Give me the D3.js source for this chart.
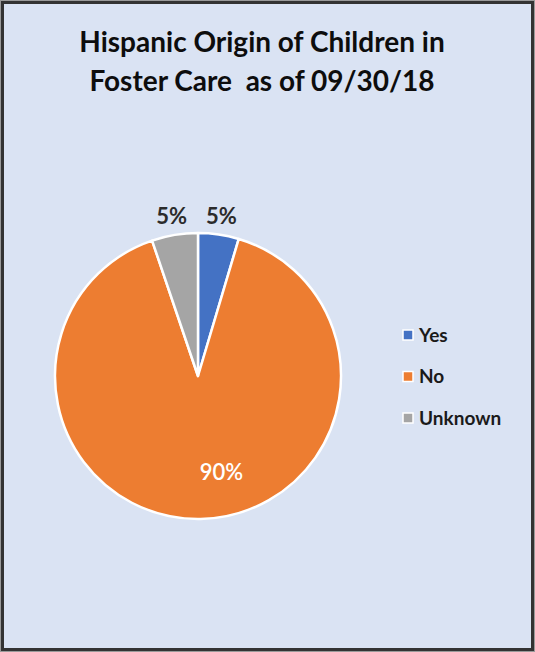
<!DOCTYPE html>
<html>
<head>
<meta charset="utf-8">
<script src="https://cdn.jsdelivr.net/npm/d3@7"></script>
<style>
  body { margin: 0; background: #fff; }
  svg { display: block; }
  text { font-family: Lato, "Open Sans", sans-serif; }
</style>
</head>
<body>
<div id="chart"></div>
<script>
// data (percent of children)
var categories = ["Yes", "No", "Unknown"];
var values = [4.6, 90.2, 5.2];
var colors = ["#4472c4", "#ed7d31", "#a5a5a5"];
var titleLines = ["Hispanic Origin of Children in", "Foster Care  as of 09/30/18"];

var W = 535, H = 652;
var cx = 198, cy = 376, r = 143;

var svg = d3.select("#chart").append("svg")
  .attr("width", W)
  .attr("height", H);

// panel + frame
svg.append("rect")
  .attr("x", 0.5).attr("y", 0.5)
  .attr("width", W - 1).attr("height", H - 1)
  .attr("fill", "none").attr("stroke", "#9a9a9a").attr("stroke-width", 1);
svg.append("rect")
  .attr("x", 2.5).attr("y", 2.5)
  .attr("width", W - 5).attr("height", H - 5)
  .attr("fill", "#dae3f3").attr("stroke", "#333").attr("stroke-width", 3);

// title
svg.append("g").selectAll("text")
  .data(titleLines)
  .enter().append("text")
  .attr("x", 262)
  .attr("y", function(d, i) { return 52 + i * 39; })
  .attr("text-anchor", "middle")
  .attr("font-size", 28)
  .attr("font-weight", 700)
  .attr("fill", "#0d0d0d")
  .style("white-space", "pre")
  .text(function(d) { return d; });

var data = categories.map(function(c, i) { return { name: c, value: values[i], color: colors[i] }; });
var total = d3.sum(values);

var pie = d3.pie().sort(null).value(function(d) { return d.value; });
var arcs = pie(data);

var arc = d3.arc().innerRadius(0).outerRadius(r);
var outLabel = d3.arc().innerRadius(r + 19).outerRadius(r + 19);
var inLabel = d3.arc().innerRadius(r * 0.69).outerRadius(r * 0.69);

var g = svg.append("g").attr("transform", "translate(" + cx + "," + cy + ")");

g.selectAll("path")
  .data(arcs)
  .enter().append("path")
  .attr("d", arc)
  .attr("fill", function(d) { return d.data.color; })
  .attr("stroke", "#fff")
  .attr("stroke-width", 2.5)
  .attr("stroke-linejoin", "round");

// percentage labels: small slices outside, big slice inside
var fmt = function(d) { return Math.round(d.data.value / total * 100) + "%"; };
g.selectAll("text.lbl")
  .data(arcs)
  .enter().append("text")
  .attr("class", "lbl")
  .attr("transform", function(d) {
    var big = (d.endAngle - d.startAngle) > Math.PI;
    var p;
    if (big) {
      // Excel best-fit nudges the inside label a bit to the right
      var a = (d.startAngle + d.endAngle) / 2 - 0.22;
      p = inLabel.centroid({ startAngle: a, endAngle: a });
    } else {
      p = outLabel.centroid(d);
    }
    return "translate(" + p + ")";
  })
  .attr("text-anchor", "middle")
  .attr("dy", "0.36em")
  .attr("font-size", 22)
  .attr("font-weight", function(d) { return (d.endAngle - d.startAngle) > Math.PI ? 600 : 700; })
  .attr("fill", function(d) { return (d.endAngle - d.startAngle) > Math.PI ? "#fff" : "#2b2b2b"; })
  .text(fmt);

// legend
var legend = svg.append("g").attr("transform", "translate(403,335)");
var item = legend.selectAll("g")
  .data(data)
  .enter().append("g")
  .attr("transform", function(d, i) { return "translate(0," + (i * 41.5) + ")"; });
item.append("rect")
  .attr("x", 0).attr("y", -5)
  .attr("width", 10).attr("height", 10)
  .attr("fill", function(d) { return d.color; })
  .attr("stroke", "#fff").attr("stroke-width", 1.5);
item.append("text")
  .attr("x", 16)
  .attr("dy", "0.36em")
  .attr("font-size", 19)
  .attr("font-weight", 700)
  .attr("fill", "#1a1a1a")
  .text(function(d) { return d.name; });
</script>
</body>
</html>
